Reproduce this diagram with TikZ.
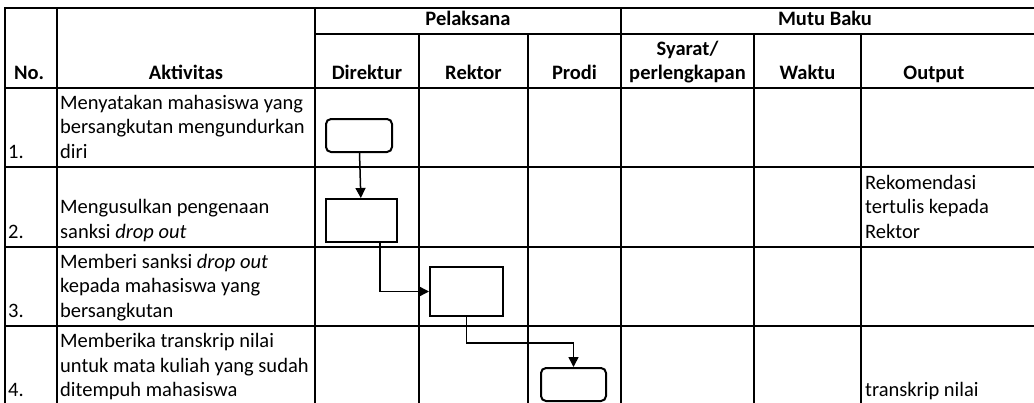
\documentclass[tikz,border=0pt]{standalone}
\usepackage{fontspec}
\setmainfont{Carlito}
\usetikzlibrary{positioning,arrows.meta}

\begin{document}
\begin{tikzpicture}[x=1pt, y=-1pt,
      font=\fontsize{20.5}{24.5}\selectfont,
      tabline/.style={line width=2.4pt, line cap=rect},
      proc/.style={draw, line width=2pt, minimum width=71pt, minimum height=43pt, inner sep=0pt},
      term/.style={proc, rounded corners=5pt, minimum width=66pt, minimum height=33pt},
      flow/.style={line width=1.5pt, -{Triangle[length=10pt, width=10pt]}},
      cell/.style={anchor=south west, inner sep=0pt, text depth=0pt, align=left},
      head/.style={anchor=south, inner sep=0pt, text depth=0pt, align=center,
                   font=\fontsize{20.5}{24.5}\selectfont\bfseries}]
      \useasboundingbox (0, 0) rectangle (1034, 402);
      \clip (0, 0) rectangle (1034, 402);
      % table
      \draw [tabline] (5, 8) -- (1034, 8)
                      (315, 34) -- (1034, 34)
                      (5, 88) -- (1034, 88);
      \foreach \y in {167, 247, 326}
            \draw [tabline] (5, \y) -- (1034, \y);
      \foreach \x in {5, 57, 315, 621}
            \draw [tabline] (\x, 8) -- (\x, 410);
      \foreach \x in {419, 528, 754, 861}
            \draw [tabline] (\x, 34) -- (\x, 410);
      % headings
      \node [head] (pel) at (468, 26) {Pelaksana};
      \node [head] (mutu) at (825, 26) {Mutu Baku};
      \node [head, anchor=south west] (no) at (14, 80) {No.};
      \node [head] (akt) at (186, 80) {Aktivitas};
      \node [head] (dir) at (367, 80) {Direktur};
      \node [head] (rek) at (473.5, 80) {Rektor};
      \node [head] (pro) at (574.5, 80) {Prodi};
      \node [head] (sya) at (687.5, 80) {Syarat/\\perlengkapan};
      \node [head] (wak) at (807.5, 80) {Waktu};
      \node [head] (out) at (934, 80) {Output};
      % rows
      \node [cell] (n1) at (8, 158.5) {1.};
      \node [cell] (n2) at (8, 238.5) {2.};
      \node [cell] (n3) at (8, 317.5) {3.};
      \node [cell] (n4) at (8, 397) {4.};
      \node [cell] (a1) at (60, 158.5) {Menyatakan mahasiswa yang\\bersangkutan mengundurkan\\diri};
      \node [cell] (a2) at (60, 238.5) {Mengusulkan pengenaan\\sanksi \textit{drop out}};
      \node [cell] (a3) at (60, 317.5) {Memberi sanksi \textit{drop out}\\kepada mahasiswa yang\\bersangkutan};
      \node [cell] (a4) at (60, 397) {Memberika transkrip nilai\\untuk mata kuliah yang sudah\\ditempuh mahasiswa};
      \node [cell] (o2) at (865, 238.5) {Rekomendasi\\tertulis kepada\\Rektor};
      \node [cell] (o4) at (865, 397) {transkrip nilai};
      % flow
      \node [term] (s1) at (359, 135.5) {};
      \node [proc] (s2) at (361.5, 220.5) {};
      \node [proc, minimum width=73pt, minimum height=49pt] (s3) at (466.5, 291.5) {};
      \node [term, minimum width=65pt] (s4) at (573.5, 384.5) {};
      \draw [flow] (s1) -- (s2);
      \draw [flow] ([xshift=18.5pt]s2.south) |- (s3.west);
      \draw [flow] (s3.south) -- ++(0, 26) -| (s4.north);
\end{tikzpicture}
\end{document}
